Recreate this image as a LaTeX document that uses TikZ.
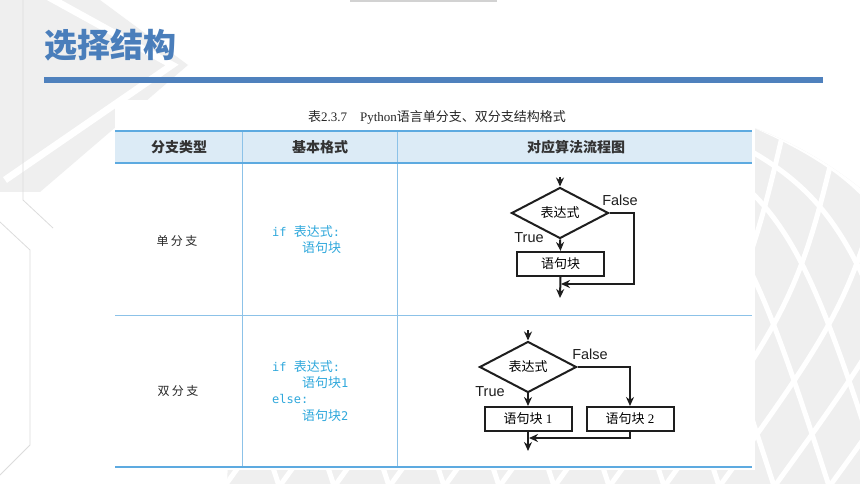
\documentclass[tikz,border=0pt]{standalone}
\usepackage{fontspec}
\setmainfont{Liberation Sans}
\newfontfamily\cjk{Noto Sans CJK SC}
\newfontfamily\monof{DejaVu Sans Mono}
\newfontfamily\serf{Liberation Serif}
\usetikzlibrary{shapes.geometric,arrows.meta}
\definecolor{titleblue}{HTML}{4A7EBB}
\definecolor{barblue}{HTML}{4F81BD}
\definecolor{tblue}{HTML}{8CC2E8}
\definecolor{tdark}{HTML}{5DAAE0}
\definecolor{hfill}{HTML}{DCEBF6}
\definecolor{codeblue}{HTML}{2FA8DC}
\definecolor{ink}{HTML}{1E1E1E}
\definecolor{deco}{HTML}{EFEFEF}
\definecolor{decoline}{HTML}{DCDCDC}
\tikzset{
  x=1pt, y=-1pt,
  tline/.style={draw=tblue, line width=0.9pt},
  tthick/.style={draw=tdark, line width=1.4pt},
  flow/.style={draw=ink, line width=2pt},
  arr/.style={flow, -{Stealth[length=9pt,width=8pt]}},
  fbox/.style={draw=ink, line width=2pt, minimum width=87pt, minimum height=24pt, inner sep=0pt, font=\cjk\fontsize{13}{15}\selectfont},
  fdia/.style={diamond, draw=ink, line width=2pt, minimum width=97pt, minimum height=42pt, inner sep=0pt, font=\cjk\fontsize{13}{15}\selectfont},
  flab/.style={font=\fontsize{14.5}{16}\selectfont, text=ink, inner sep=0pt},
  head/.style={font=\cjk\bfseries\fontsize{14}{16}\selectfont, text=black!80, inner sep=0pt},
  rowlab/.style={font=\cjk\fontsize{12}{14}\selectfont, text=black!85, inner sep=0pt},
  code/.style={font=\monof\fontsize{12}{14}\selectfont, text=codeblue, inner sep=0pt, anchor=west},
  lattice/.style={white, line width=5pt},
}
\begin{document}
\begin{tikzpicture}
\useasboundingbox (0,0) rectangle (860,484);
\fill[white] (0,0) rectangle (860,484);
% ---- left decoration
\fill[deco] (0,0) -- (100,0) -- (188,65) -- (40,192) -- (0,192) -- cycle;
\draw[white, line width=7pt] (45,-5) -- (172,65) -- (5,180);
\draw[decoline, line width=0.8pt] (23,0) -- (23,200) -- (53,228);
\draw[decoline, line width=0.8pt] (0,222) -- (30,250) -- (30,445) -- (0,475);
% ---- globe decoration
\begin{scope}
  \clip (617,493) circle (390);
  \fill[deco] (200,90) rectangle (860,484);
  \foreach \c in {-400,-345,...,900}
    \draw[lattice] (\c,80) .. controls (\c+250,180) .. (\c+360,520);
  \foreach \c in {300,355,...,1300}
    \draw[lattice] (\c,80) .. controls (\c-50,300) .. (\c-210,520);
\end{scope}
% top small bar
\fill[gray!35] (350,0) rectangle (497,2);
% ---- title and bar
\node[font=\cjk\bfseries\fontsize{33}{37}\selectfont, text=titleblue, anchor=west, inner sep=0pt] (title) at (44,45) {选择结构};
\fill[barblue] (44,77) rectangle (823,83);
% ---- table area
\fill[white] (115,100) rectangle (755,470);
\node[inner sep=0pt, text=black!85] (caption) at (437,117) {\cjk\fontsize{13}{15}\selectfont 表\serf 2.3.7\quad Python\cjk 语言单分支、双分支结构格式};
\fill[hfill] (115,131) rectangle (752,163);
\draw[tline] (242,131) -- (242,467);
\draw[tline] (397,131) -- (397,467);
\draw[tthick] (115,131) -- (752,131);
\draw[tthick] (115,163) -- (752,163);
\draw[tline] (115,315) -- (752,315);
\draw[tthick] (115,467) -- (752,467);
\node[head] (h1) at (179,147) {分支类型};
\node[head] (h2) at (320,147) {基本格式};
\node[head] (h3) at (576,147) {对应算法流程图};
\node[rowlab] (r1) at (177,241) {单\kern2.5pt 分\kern2.5pt 支};
\node[rowlab] (r2) at (178,391) {双\kern2.5pt 分\kern2.5pt 支};
% code
\node[code] (c1) at (272,232) {if {\cjk\fontsize{13}{14}\selectfont 表达式}:};
\node[code] (c2) at (302,248) {\cjk\fontsize{13}{14}\selectfont 语句块};
\node[code] (c3) at (272,367) {if {\cjk\fontsize{13}{14}\selectfont 表达式}:};
\node[code] (c4) at (302,383) {{\cjk\fontsize{13}{14}\selectfont 语句块}1};
\node[code] (c5) at (272,399) {else:};
\node[code] (c6) at (302,416) {{\cjk\fontsize{13}{14}\selectfont 语句块}2};
% ---- flowchart 1
\coordinate (s1) at (560,177);
\node[fdia] (d1) at (560,213) {表达式};
\node[fbox] (b1) at (560.5,264) {语句块};
\coordinate (m1) at (561,284);
\coordinate (e1) at (560,298);
\draw[arr] (s1) -- (d1.north);
\draw[arr] (d1.south) -- (b1.north);
\draw[arr] (b1.south) -- (e1);
\draw[arr] (d1.east) -- ++(24,0) |- (m1);
\node[flab] (f1) at (620,200) {False};
\node[flab] (t1) at (529,238) {True};
% ---- flowchart 2
\coordinate (s2) at (528,330);
\node[fdia] (d2) at (528,367) {表达式};
\node[fbox] (b21) at (528,419) {语句块\serf\ 1};
\node[fbox] (b22) at (630,419) {语句块\serf\ 2};
\coordinate (m2) at (529,438);
\coordinate (e2) at (528,451);
\draw[arr] (s2) -- (d2.north);
\draw[arr] (d2.south) -- (b21.north);
\draw[arr] (d2.east) -| (b22.north);
\draw[arr] (b22.south) |- (m2);
\draw[arr] (b21.south) -- (e2);
\node[flab] (f2) at (590,354) {False};
\node[flab] (t2) at (490,392) {True};
\end{tikzpicture}
\end{document}
